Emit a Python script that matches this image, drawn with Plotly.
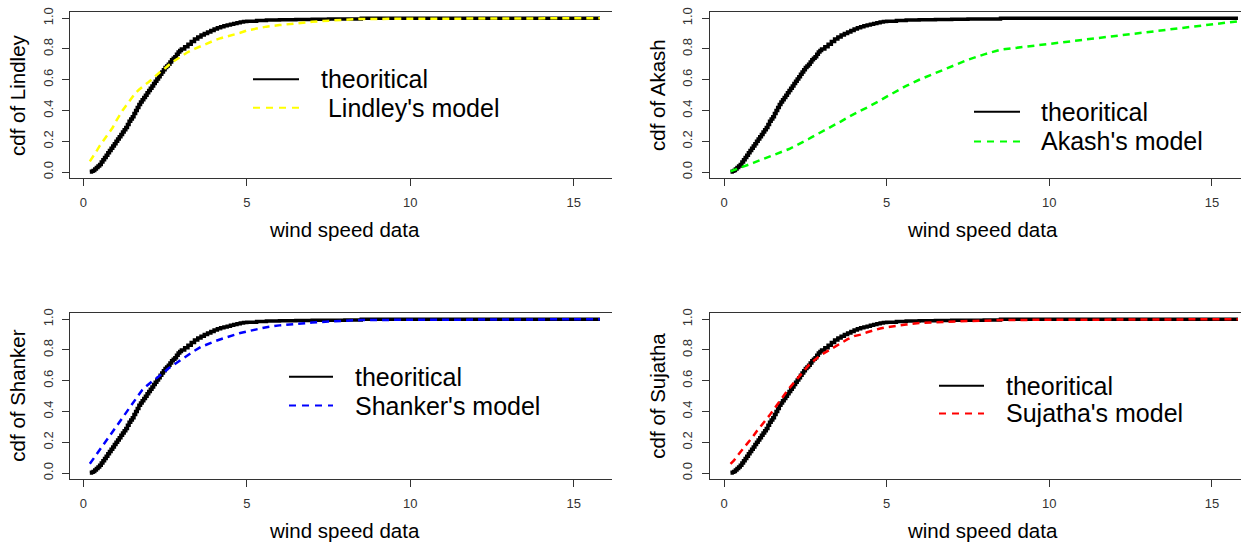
import plotly.graph_objects as go

W, H = 1241, 543

# ---------------- data ----------------
theo_x = [0.20, 0.25, 0.30, 0.35, 0.40, 0.45, 0.50, 0.55, 0.60, 0.65, 0.70, 0.75, 0.80, 0.85, 0.90,
          0.95, 1.00, 1.05, 1.10, 1.15, 1.20, 1.25, 1.30, 1.35, 1.40, 1.45, 1.50, 1.55, 1.60, 1.65,
          1.70, 1.75, 1.80, 1.85, 1.90, 1.95, 2.00, 2.05, 2.10, 2.15, 2.20, 2.25, 2.30, 2.35, 2.40,
          2.45, 2.50, 2.55, 2.60, 2.65, 2.70, 2.75, 2.80, 2.85, 2.90, 2.95, 3.00, 3.1, 3.2, 3.3,
          3.4, 3.5, 3.6, 3.7, 3.8, 3.9, 4.0, 4.1, 4.2, 4.3, 4.4, 4.5, 4.6, 4.7, 4.8,
          4.9, 5.0, 5.3, 5.6, 6.0, 6.5, 7.0, 7.5, 8.0, 8.5, 15.8]
theoretical = [0.000, 0.005, 0.010, 0.020, 0.030, 0.040, 0.050, 0.065, 0.080, 0.095, 0.110, 0.125, 0.140, 0.155, 0.170,
               0.185, 0.200, 0.215, 0.230, 0.245, 0.260, 0.275, 0.290, 0.310, 0.330, 0.345, 0.360, 0.380, 0.400, 0.420,
               0.440, 0.455, 0.470, 0.485, 0.500, 0.515, 0.530, 0.545, 0.560, 0.575, 0.590, 0.605, 0.620, 0.635, 0.650,
               0.665, 0.680, 0.690, 0.700, 0.715, 0.730, 0.740, 0.750, 0.765, 0.780, 0.790, 0.800, 0.815, 0.830, 0.848,
               0.865, 0.878, 0.890, 0.900, 0.910, 0.920, 0.930, 0.938, 0.945, 0.950, 0.955, 0.960, 0.965, 0.970, 0.975,
               0.978, 0.980, 0.985, 0.988, 0.990, 0.992, 0.993, 0.994, 0.995, 1.000, 1.000]

model_x = [0.2, 0.3, 0.4, 0.5, 0.6, 0.7, 0.8, 0.9, 1.0, 1.1, 1.2, 1.3, 1.4, 1.5, 1.6,
           1.7, 1.8, 1.9, 2.0, 2.1, 2.2, 2.3, 2.4, 2.5, 2.6, 2.7, 2.8, 2.9, 3.0, 3.2,
           3.4, 3.6, 3.8, 4.0, 4.2, 4.4, 4.6, 4.8, 5.0, 5.3, 5.6, 6.0, 6.5, 7.0, 7.5,
           8.0, 8.5, 15.8]

lindley = [0.07, 0.10, 0.135, 0.17, 0.20, 0.23, 0.26, 0.29, 0.33, 0.37, 0.40, 0.43, 0.46, 0.49, 0.515,
           0.535, 0.555, 0.57, 0.585, 0.605, 0.625, 0.64, 0.66, 0.675, 0.695, 0.71, 0.725, 0.74, 0.755, 0.78,
           0.80, 0.82, 0.84, 0.855, 0.87, 0.88, 0.895, 0.905, 0.92, 0.935, 0.945, 0.955, 0.967, 0.977, 0.984,
           0.99, 0.995, 1.0]

akash = [0.005, 0.012, 0.02, 0.028, 0.036, 0.044, 0.052, 0.06, 0.068, 0.076, 0.084, 0.09, 0.098, 0.106, 0.115,
         0.124, 0.133, 0.142, 0.15, 0.16, 0.17, 0.18, 0.19, 0.20, 0.215, 0.227, 0.238, 0.25, 0.26, 0.282,
         0.305, 0.33, 0.355, 0.38, 0.40, 0.42, 0.44, 0.465, 0.49, 0.525, 0.56, 0.60, 0.645, 0.69, 0.73,
         0.765, 0.795, 0.98]

shanker = [0.06, 0.09, 0.12, 0.15, 0.18, 0.21, 0.24, 0.27, 0.30, 0.335, 0.365, 0.395, 0.42, 0.45, 0.48,
           0.51, 0.54, 0.56, 0.58, 0.595, 0.61, 0.625, 0.64, 0.66, 0.68, 0.695, 0.71, 0.725, 0.74, 0.77,
           0.795, 0.82, 0.84, 0.855, 0.87, 0.885, 0.90, 0.91, 0.92, 0.935, 0.948, 0.96, 0.97, 0.978, 0.985,
           0.99, 0.995, 1.0]

sujatha = [0.06, 0.08, 0.11, 0.135, 0.16, 0.19, 0.215, 0.24, 0.27, 0.295, 0.32, 0.345, 0.375, 0.405, 0.435,
           0.465, 0.49, 0.52, 0.55, 0.575, 0.60, 0.63, 0.655, 0.68, 0.70, 0.72, 0.74, 0.755, 0.77, 0.795,
           0.825, 0.85, 0.87, 0.89, 0.90, 0.915, 0.93, 0.94, 0.948, 0.958, 0.965, 0.975, 0.98, 0.985, 0.988,
           0.99, 0.995, 1.0]

x_ticks = [0, 5, 10, 15]
y_ticks = [0.0, 0.2, 0.4, 0.6, 0.8, 1.0]
y_tick_labels = ["0.0", "0.2", "0.4", "0.6", "0.8", "1.0"]
x_title = "wind speed data"
legend_theo = "theoritical"

panels = [
    dict(name="Lindley", model=lindley, color="#FFFF00", label=" Lindley's model"),
    dict(name="Akash", model=akash, color="#00FF00", label="Akash's model"),
    dict(name="Shanker", model=shanker, color="#0000FF", label="Shanker's model"),
    dict(name="Sujatha", model=sujatha, color="#FF0000", label="Sujatha's model"),
]

# ---------------- layout geometry (pixels) ----------------
frames = [
    (70, 612, 7.1, 175.2),
    (709.5, 1241, 7.1, 175.2),
    (70, 612, 311.5, 479.5),
    (709.5, 1241, 311.5, 479.5),
]
xmap = [(83.3, 32.7), (724, 32.53), (83.3, 32.7), (724, 32.53)]
legends = [
    (253, 299, 75, 104, 319, 319),
    (974, 1020, 108, 138, 1039, 1039),
    (289, 333, 376, 405, 353, 353),
    (939, 984, 385, 413, 1004, 1004),
]
ytitle_pos = [(18, 91), (658, 91), (18, 395), (658, 395)]
xtitle_pos = [(344, 227), (983, 227), (344, 531.5), (983, 531.5)]


def px(x):
    return x / W


def py(y):
    return 1 - y / H


FONT = "Liberation Sans, Arial, sans-serif"
TICKFONT = "Liberation Sans Narrow, Arial Narrow, Liberation Sans, Arial, sans-serif"
AXC = "#333333"

fig = go.Figure()
shapes = []
annotations = []

for i, p in enumerate(panels):
    xa = "x" if i == 0 else f"x{i + 1}"
    ya = "y" if i == 0 else f"y{i + 1}"
    l, r, t, b = frames[i]
    x0px, scale = xmap[i]
    xr = [(l - x0px) / scale, (r - x0px) / scale]

    fig.add_trace(go.Scatter(x=theo_x, y=theoretical, mode="lines", xaxis=xa, yaxis=ya,
                             line=dict(color="black", width=3.5, shape="hv"), showlegend=False,
                             hoverinfo="skip"))
    fig.add_trace(go.Scatter(x=model_x, y=p["model"], mode="lines", xaxis=xa, yaxis=ya,
                             line=dict(color=p["color"], width=2.5, dash="7px,5px"), showlegend=False,
                             hoverinfo="skip"))

    xkey = "xaxis" if i == 0 else f"xaxis{i + 1}"
    ykey = "yaxis" if i == 0 else f"yaxis{i + 1}"
    fig.update_layout(**{
        xkey: dict(domain=[px(l), px(r)], range=xr, anchor=ya, showgrid=False, zeroline=False,
                   showline=True, mirror=True, linecolor=AXC, linewidth=1,
                   ticks="outside", ticklen=7, tickwidth=1, tickcolor=AXC,
                   tickvals=x_ticks, ticktext=[str(v) for v in x_ticks],
                   tickfont=dict(family=TICKFONT, size=13, color="#333333"),
                   ticklabelstandoff=5),
        ykey: dict(domain=[py(b), py(t)], range=[-0.04, 1.04], anchor=xa, showgrid=False,
                   zeroline=False, showline=True, mirror=False, linecolor=AXC, linewidth=1,
                   ticks="outside", ticklen=7, tickwidth=1, tickcolor=AXC,
                   tickvals=y_ticks, ticktext=y_tick_labels, tickangle=-90,
                   tickfont=dict(family=TICKFONT, size=13, color="#333333"),
                   ticklabelstandoff=4),
    })

    tx, ty = xtitle_pos[i]
    annotations.append(dict(x=px(tx), y=py(ty), xref="paper", yref="paper", text=x_title,
                            showarrow=False, xanchor="center", yanchor="middle",
                            font=dict(family=FONT, size=20.5, color="black")))
    yx, yy = ytitle_pos[i]
    annotations.append(dict(x=px(yx), y=py(yy), xref="paper", yref="paper",
                            text=f"cdf of {p['name']}", textangle=-90,
                            showarrow=False, xanchor="center", yanchor="middle",
                            font=dict(family=FONT, size=20.5, color="black")))

    lx0, lx1, ly1, ly2, tx1, tx2 = legends[i]
    shapes.append(dict(type="line", xref="paper", yref="paper", x0=px(lx0), x1=px(lx1),
                       y0=py(ly1), y1=py(ly1), line=dict(color="black", width=2)))
    shapes.append(dict(type="line", xref="paper", yref="paper", x0=px(lx0), x1=px(lx1),
                       y0=py(ly2), y1=py(ly2), line=dict(color=p["color"], width=2, dash="7px,6px")))
    annotations.append(dict(x=px(tx1), y=py(ly1), xref="paper", yref="paper", text=legend_theo,
                            showarrow=False, xanchor="left", yanchor="middle",
                            font=dict(family=FONT, size=25, color="black")))
    label = p["label"]
    if label.startswith(" "):
        label = "&nbsp;" + label[1:]
    annotations.append(dict(x=px(tx2), y=py(ly2), xref="paper", yref="paper", text=label,
                            showarrow=False, xanchor="left", yanchor="middle",
                            font=dict(family=FONT, size=25, color="black")))

fig.update_layout(width=W, height=H, margin=dict(l=0, r=0, t=0, b=0),
                  paper_bgcolor="white", plot_bgcolor="white",
                  shapes=shapes, annotations=annotations, showlegend=False)

fig.write_html("out.html", config={"displayModeBar": False},
               post_script="document.body.style.margin='0';document.body.style.padding='0';"
                           "document.body.style.overflow='hidden';")
